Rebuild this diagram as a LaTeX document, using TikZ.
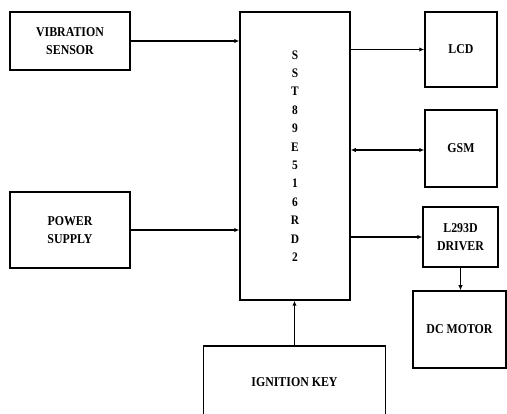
\documentclass[tikz,border=0pt]{standalone}
\usepackage{fontspec}
\setmainfont[FakeStretch=0.88]{Liberation Serif}
\usepackage{tikz}
\usetikzlibrary{arrows.meta,positioning,calc}

\begin{document}
\begin{tikzpicture}[x=1pt, y=-1pt,
  every node/.style={font=\fontsize{13.5}{17.5}\selectfont\bfseries},
  blk/.style={draw, line width=1.5pt, align=center, inner sep=0pt},
  link/.style={line width=1.1pt, -{Latex[length=5pt,width=4.5pt]}}]
  \useasboundingbox (0,0) rectangle (507,414);
  \clip (0,0) rectangle (507,414);
  % Inputs
  \node[blk, minimum width=120, minimum height=58] (vib) at (70,41) {VIBRATION\\SENSOR};
  \node[blk, minimum width=120, minimum height=76] (pwr) at (70,230) {POWER\\SUPPLY};
  \node[blk, minimum width=182, minimum height=72] (ign) at (294.5,382) {IGNITION KEY};
  % Controller
  \node[blk, minimum width=110, minimum height=288,
        font=\fontsize{13}{18.4}\selectfont\bfseries] (mcu) at (295,156)
        {S\\S\\T\\8\\9\\E\\5\\1\\6\\R\\D\\2};
  % Outputs
  \node[blk, minimum width=72, minimum height=75] (lcd) at (461,49.5) {LCD};
  \node[blk, minimum width=72, minimum height=77] (gsm) at (461,148.5) {GSM};
  \node[blk, minimum width=75, minimum height=60] (drv) at (460.5,237) {L293D\\DRIVER};
  \node[blk, minimum width=93, minimum height=77] (motor) at (459.5,329.5) {DC MOTOR};
  % Arrows
  \draw[link] (vib.east) -- (vib.east -| mcu.west);
  \draw[link] (pwr.east) -- (pwr.east -| mcu.west);
  \draw[link] (ign.north) -- (ign.north |- mcu.south);
  \draw[link] (lcd.west -| mcu.east) -- (lcd.west);
  \draw[link, {Latex[length=5pt,width=4.5pt]}-{Latex[length=5pt,width=4.5pt]}] ($(gsm.west -| mcu.east)+(0,1.5)$) -- ($(gsm.west)+(0,1.5)$);
  \draw[link] (drv.west -| mcu.east) -- (drv.west);
  \draw[link] (drv.south) -- (drv.south |- motor.north);
\end{tikzpicture}
\end{document}
